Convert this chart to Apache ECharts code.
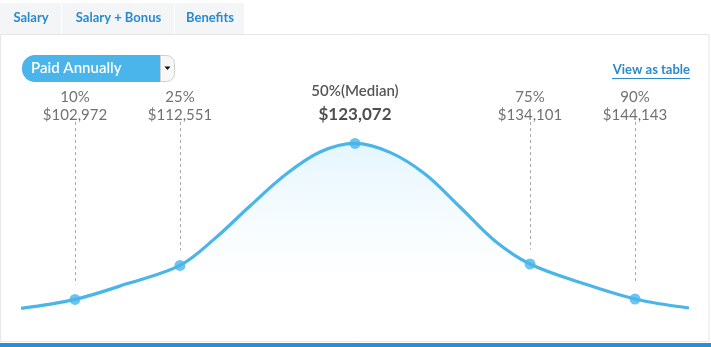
<!DOCTYPE html>
<html>
<head>
<meta charset="utf-8">
<script src="https://cdn.jsdelivr.net/npm/echarts@6/dist/echarts.min.js"></script>
<style>
  html, body { margin: 0; padding: 0; background: #ffffff; }
  #chart { width: 711px; height: 347px; }
</style>
</head>
<body>
<div id="chart"></div>
<script>
// Salary distribution: smooth bell curve over percentile rank, with marked percentiles.
const curvePct     = [2.3, 10, 17.5, 25, 30, 35, 40, 45, 50, 55, 60, 65, 70, 75, 82.5, 90, 97.7];
const curveDensity = [10.8, 15.3, 23.2, 32.3, 45.8, 62, 77.5, 89, 93.3, 88.8, 78, 61.5, 44.5, 33, 23.4, 15.5, 11];

const percentiles      = [10, 25, 50, 75, 90];
const percentileLabels = ['10%', '25%', '50%(Median)', '75%', '90%'];
const salaryLabels     = ['$102,972', '$112,551', '$123,072', '$134,101', '$144,143'];
const medianIndex      = 2;

const tabs = ['Salary', 'Salary + Bonus', 'Benefits'];
const payPeriod = 'Paid Annually';
const tableLink = 'View as table';

const FONT = 'Lato, "Open Sans", sans-serif';
const BLUE = '#4ab5ea';
const LINK = '#2a8acb';
const LABEL_TOP = 104;   // where the dashed guides start, in density units
const GUIDE_GAP = 7.5;   // space between guide end and marker

const densityAt = p => curveDensity[curvePct.indexOf(p)];

const curveData  = curvePct.map((p, i) => [p, curveDensity[i]]);
const markerData = percentiles.map(p => [p, densityAt(p)]);
const guideData  = percentiles
  .filter((p, i) => i !== medianIndex)
  .map(p => [{ coord: [p, LABEL_TOP] }, { coord: [p, densityAt(p) + GUIDE_GAP] }]);
const labelData = percentiles.map((p, i) => ({
  value: [p, LABEL_TOP - 1],
  label: {
    formatter: i === medianIndex
      ? '{mp|' + percentileLabels[i] + '}\n{ms|' + salaryLabels[i] + '}'
      : '{p|' + percentileLabels[i] + '}\n{s|' + salaryLabels[i] + '}'
  }
}));

// Page chrome: tabs, panel frame, pay-period selector, table link
const tabEdges = [0, 62, 175, 245];
const graphic = [];
tabs.forEach((t, i) => {
  graphic.push({
    type: 'rect', silent: true,
    shape: { x: tabEdges[i], y: 3, width: tabEdges[i + 1] - tabEdges[i] - 1, height: 31 },
    style: { fill: '#f3f5f7' }
  });
  graphic.push({
    type: 'text', silent: true,
    x: (tabEdges[i] + tabEdges[i + 1]) / 2, y: 18,
    style: { text: t, fill: LINK, font: 'bold 13px ' + FONT, align: 'center', verticalAlign: 'middle' }
  });
});
graphic.push(
  { type: 'rect', silent: true, shape: { x: 0.5, y: 34.5, width: 708.5, height: 307 },
    style: { fill: null, stroke: '#e6e6e6', lineWidth: 1 } },
  { type: 'rect', silent: true, shape: { x: 0, y: 343, width: 711, height: 4 },
    style: { fill: '#2a8fd2' } },
  { type: 'rect', silent: true, shape: { x: 22, y: 55, width: 153, height: 27, r: 13 },
    style: { fill: BLUE } },
  { type: 'rect', silent: true, shape: { x: 160.5, y: 55.5, width: 14, height: 26, r: [0, 8, 8, 0] },
    style: { fill: '#f7f7f7', stroke: '#cfcfcf', lineWidth: 1 } },
  { type: 'polygon', silent: true, shape: { points: [[164.5, 66.5], [170.5, 66.5], [167.5, 70]] },
    style: { fill: '#111' } },
  { type: 'text', silent: true, x: 31, y: 68.5,
    style: { text: payPeriod, fill: '#ffffff', font: '600 15px ' + FONT, verticalAlign: 'middle' } },
  { type: 'text', silent: true, x: 690, y: 70,
    style: { text: tableLink, fill: LINK, font: 'bold 13px ' + FONT, align: 'right', verticalAlign: 'middle' } },
  { type: 'line', silent: true, shape: { x1: 612, y1: 78.5, x2: 690, y2: 78.5 },
    style: { stroke: LINK, lineWidth: 1 } }
);

const chart = echarts.init(document.getElementById('chart'), null, { renderer: 'canvas' });
chart.setOption({
  animation: false,
  backgroundColor: '#ffffff',
  textStyle: { fontFamily: FONT },
  grid: { left: 5, right: 6, top: 80, bottom: 17 },
  xAxis: { type: 'value', min: 0, max: 100, show: false },
  yAxis: { type: 'value', min: 0, max: 125, show: false },
  graphic: graphic,
  series: [
    {
      type: 'line',
      data: curveData,
      smooth: 0.35,
      symbol: 'none',
      lineStyle: { color: BLUE, width: 3.2 },
      areaStyle: {
        color: new echarts.graphic.LinearGradient(0, 0, 0, 1, [
          { offset: 0, color: 'rgba(214,241,253,0.9)' },
          { offset: 0.75, color: 'rgba(255,255,255,0.6)' },
          { offset: 1, color: 'rgba(255,255,255,0)' }
        ])
      },
      z: 2
    },
    {
      type: 'scatter',
      data: markerData,
      symbol: 'circle',
      symbolSize: 11,
      itemStyle: { color: BLUE },
      markLine: {
        silent: true,
        symbol: 'none',
        label: { show: false },
        lineStyle: { color: '#aaaaaa', type: [3, 3], width: 1 },
        data: guideData
      },
      z: 3
    },
    {
      type: 'scatter',
      data: labelData,
      symbolSize: 0,
      silent: true,
      label: {
        show: true,
        position: 'top',
        distance: 0,
        align: 'center',
        rich: {
          p:  { fontFamily: FONT, fontSize: 15, color: '#4d4d4d', lineHeight: 18, align: 'center' },
          s:  { fontFamily: FONT, fontSize: 15, color: '#4d4d4d', lineHeight: 18, align: 'center' },
          mp: { fontFamily: FONT, fontSize: 15, fontWeight: 600, color: '#2b2b2b', lineHeight: 30, align: 'center' },
          ms: { fontFamily: FONT, fontSize: 17, fontWeight: 'bold', color: '#222222', lineHeight: 18, align: 'center' }
        }
      },
      z: 4
    }
  ]
});
</script>
</body>
</html>
